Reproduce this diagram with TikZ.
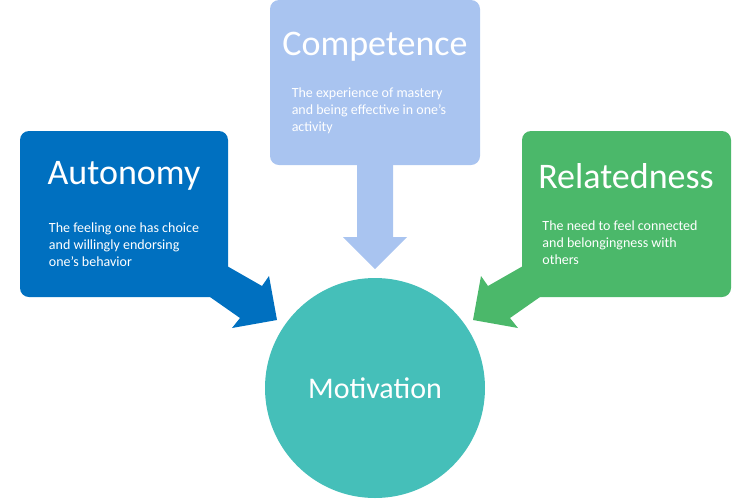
\documentclass[tikz,border=0pt]{standalone}
\usepackage{fontspec}
\setmainfont{Carlito}
\definecolor{autoblue}{HTML}{0070C0}
\definecolor{compblue}{HTML}{A9C4F0}
\definecolor{relgreen}{HTML}{4BB86A}
\definecolor{motteal}{HTML}{45BFB9}
\begin{document}
\begin{tikzpicture}[x=1pt,y=-1pt,
  box/.style={rounded corners=9pt,draw=none},
  title/.style={text=white,font=\fontsize{36}{40}\selectfont},
  body/.style={text=white,font=\fontsize{14}{17}\selectfont,align=left}]
  \useasboundingbox (0,0) rectangle (750,499);

  % Autonomy
  \fill[autoblue,box] (20,131) rectangle (228,297);
  \fill[autoblue] (220,262) -- (262,286) -- (269,276) -- (277,320) -- (232,328) -- (240,318) -- (210,297) -- (210,262) -- cycle;
  \node[title] (auto) at (124,176) {Autonomy};
  \node[body] (autotxt) at (124,245) {The feeling one has choice\\and willingly endorsing\\one’s behavior};

  % Competence
  \fill[compblue,box] (270,0) rectangle (480,165);
  \fill[compblue] (357,160) -- (393,160) -- (393,237) -- (407,237) -- (375,269) -- (343,237) -- (357,237) -- cycle;
  \node[title] (comp) at (375,47) {Competence};
  \node[body] (comptxt) at (369,111) {The experience of mastery\\and being effective in one’s\\activity};

  % Relatedness
  \fill[relgreen,box] (522,131) rectangle (731,297);
  \fill[relgreen] (530,262) -- (488,286) -- (481,276) -- (473,320) -- (518,328) -- (510,318) -- (540,297) -- (540,262) -- cycle;
  \node[title] (rel) at (626,176) {Relatedness};
  \node[body] (reltxt) at (620,243) {The need to feel connected\\and belongingness with\\others};

  % Motivation
  \fill[motteal] (375,388) circle (110);
  \node[title,font=\fontsize{30}{34}\selectfont] (mot) at (375,388) {Motivation};
\end{tikzpicture}
\end{document}
